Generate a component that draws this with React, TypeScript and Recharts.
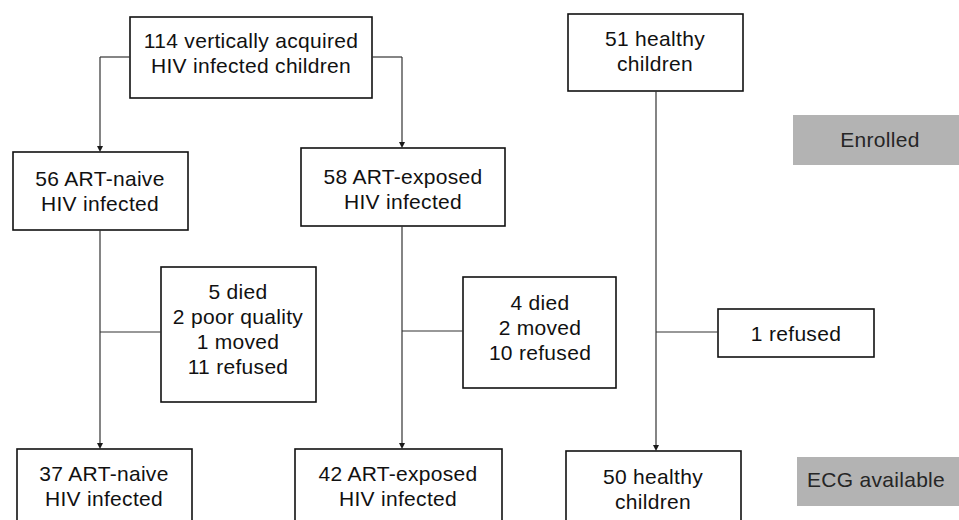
import React from 'react';
import { ComposedChart, XAxis, YAxis, ReferenceArea, ReferenceLine } from 'recharts';

const W = 959;
const H = 520;

// Flowchart nodes (diagram coordinates: x from left, y from top)
const nodeLines: string[][] = [
  ['114 vertically acquired', 'HIV infected children'],
  ['51 healthy', 'children'],
  ['56 ART-naive', 'HIV infected'],
  ['58 ART-exposed', 'HIV infected'],
  ['5 died', '2 poor quality', '1 moved', '11 refused'],
  ['4 died', '2 moved', '10 refused'],
  ['1 refused'],
  ['37 ART-naive', 'HIV infected'],
  ['42 ART-exposed', 'HIV infected'],
  ['50 healthy', 'children'],
  ['Enrolled'],
  ['ECG available'],
];
const nodeKind = ['box', 'box', 'box', 'box', 'box', 'box', 'box', 'box', 'box', 'box', 'tag', 'tag'];
const nodeLeft = [130, 568, 13, 301, 161, 463, 718, 17, 295, 566, 793, 797];
const nodeRight = [372, 743, 188, 505, 316, 616, 874, 192, 502, 741, 975, 975];
const nodeTop = [17, 14, 152, 148, 267, 277, 309, 449, 449, 451, 115, 457];
const nodeBottom = [98, 91, 230, 226, 402, 388, 357, 545, 545, 545, 165, 506];
const nodeFirstLineY = [40, 38, 178, 176, 291, 302, 333, 473, 473, 476, 139, 479];
const nodeTextX = [251, 655, 100, 403, 238, 540, 796, 104, 398, 653, 880, 876];

// Connectors
const linkX1 = [130, 100, 372, 402, 100, 100, 402, 402, 656, 656];
const linkY1 = [57, 57, 57, 57, 230, 332, 226, 331, 91, 332];
const linkX2 = [100, 100, 402, 402, 100, 161, 402, 463, 656, 718];
const linkY2 = [57, 152, 57, 148, 449, 332, 449, 331, 451, 332];
const linkArrow = [false, true, false, true, true, false, true, false, true, false];

const LINE_GAP = 25;
const FONT = '"Liberation Sans", Arial, Helvetica, sans-serif';

function NodeShape(props: any) {
  const { x, y, width, height, idx } = props;
  const kind = nodeKind[idx];
  const k = height / (nodeBottom[idx] - nodeTop[idx]);
  const kx = width / (nodeRight[idx] - nodeLeft[idx]);
  const tx = x + (nodeTextX[idx] - nodeLeft[idx]) * kx;
  const ty = y + (nodeFirstLineY[idx] - nodeTop[idx]) * k;
  return (
    <g>
      <rect
        x={x}
        y={y}
        width={width}
        height={height}
        fill={kind === 'tag' ? '#b3b3b3' : '#ffffff'}
        stroke={kind === 'tag' ? 'none' : '#111111'}
        strokeWidth={1.6}
      />
      <text
        x={tx}
        y={ty}
        textAnchor="middle"
        dominantBaseline="central"
        fontFamily={FONT}
        fontSize={21}
        letterSpacing={0.3}
        fill={kind === 'tag' ? '#262626' : '#111111'}
      >
        {nodeLines[idx].map((l, i) => (
          <tspan key={i} x={tx} y={ty + i * LINE_GAP * k}>
            {l}
          </tspan>
        ))}
      </text>
    </g>
  );
}

function LinkShape(props: any) {
  const { x1, y1, x2, y2, arrow } = props;
  if (x1 == null) return null;
  const ah = 6;
  const aw = 3;
  const yEnd = arrow ? y2 - ah : y2;
  return (
    <g>
      <line x1={x1} y1={y1} x2={x2} y2={yEnd} stroke="#333333" strokeWidth={1.2} />
      {arrow && (
        <polygon
          points={`${x2 - aw},${y2 - ah} ${x2 + aw},${y2 - ah} ${x2},${y2}`}
          fill="#1a1a1a"
        />
      )}
    </g>
  );
}

export default function App() {
  return (
    <div style={{ position: 'absolute', left: 0, top: 0, width: W, height: H, background: '#ffffff' }}>
      <ComposedChart width={W} height={H} data={[{ x: 0, y: 0 }]} margin={{ top: 0, right: 0, bottom: 0, left: 0 }}>
        <XAxis type="number" dataKey="x" domain={[0, W]} hide allowDataOverflow />
        <YAxis type="number" dataKey="y" domain={[0, H]} hide reversed allowDataOverflow width={0} />
        {linkX1.map((_, i) => (
          <ReferenceLine
            key={'l' + i}
            segment={[
              { x: linkX1[i], y: linkY1[i] },
              { x: linkX2[i], y: linkY2[i] },
            ]}
            ifOverflow="visible"
            shape={(p: any) => <LinkShape {...p} arrow={linkArrow[i]} />}
          />
        ))}
        {nodeLines.map((_, i) => (
          <ReferenceArea
            key={'n' + i}
            x1={nodeLeft[i]}
            x2={nodeRight[i]}
            y1={nodeTop[i]}
            y2={nodeBottom[i]}
            ifOverflow="visible"
            shape={(p: any) => <NodeShape {...p} idx={i} />}
          />
        ))}
      </ComposedChart>
    </div>
  );
}
